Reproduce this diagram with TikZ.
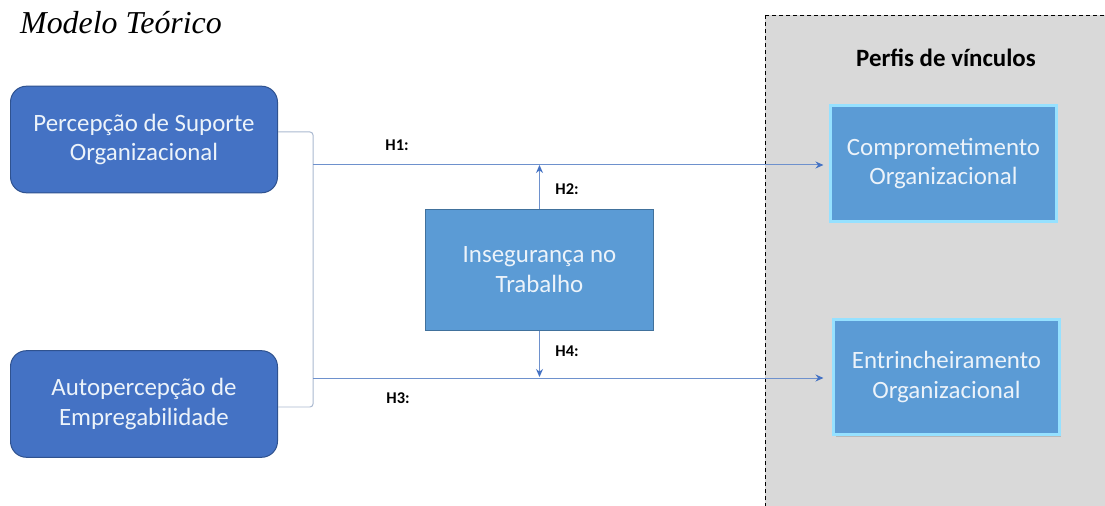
\documentclass[tikz,border=0pt]{standalone}
\usepackage{fontspec}
\setmainfont{Liberation Serif}
\setsansfont{Carlito}
\usetikzlibrary{arrows.meta,shadows}
\definecolor{darkblue}{RGB}{68,114,196}
\definecolor{darkedge}{RGB}{47,82,143}
\definecolor{midblue}{RGB}{91,155,213}
\definecolor{midedge}{RGB}{65,113,156}
\definecolor{glow}{RGB}{150,225,255}
\definecolor{panelgray}{RGB}{217,217,217}
\definecolor{boxtext}{RGB}{236,243,250}
\definecolor{bracketline}{RGB}{170,185,208}
\definecolor{arrowline}{RGB}{110,145,205}
\tikzset{
  boxfont/.style={font=\sffamily\fontsize{25}{30}\selectfont, text=boxtext, align=center},
  inputbox/.style={boxfont, draw=darkedge, line width=1pt, fill=darkblue, rounded corners=16,
                   minimum width=268, minimum height=107, inner sep=0pt},
  modbox/.style={boxfont, draw=midedge, line width=1pt, fill=midblue,
                 minimum width=229, minimum height=122, inner sep=0pt},
  outbox/.style={boxfont, draw=glow, line width=3pt, fill=midblue,
                 minimum width=226, minimum height=116, inner sep=0pt,
                 drop shadow={opacity=0.35, shadow xshift=2pt, shadow yshift=-2pt}},
  hlabel/.style={font=\sffamily\bfseries\fontsize{16.5}{18}\selectfont, text=black},
  bracket/.style={draw=bracketline, line width=1pt, rounded corners=3},
  flow/.style={draw=arrowline, line width=1pt,
               -{Stealth[length=8pt,width=7pt,color=darkblue]}},
}
\begin{document}
\begin{tikzpicture}[x=1bp, y=-1bp]
  \useasboundingbox (0,0) rectangle (1105,506);
  \clip (0,0) rectangle (1105,506);
  \fill[white] (0,0) rectangle (1105,506);

  % panel of outcome profiles
  \draw[fill=panelgray, draw=black, line width=0.9pt, dash pattern=on 4pt off 3pt]
    (765,15) rectangle (1120,520);
  \node[font=\sffamily\bfseries\fontsize{25}{29}\selectfont, text=black] (panel) at (946,58) {Perfis de vínculos};

  % title
  \node[font=\itshape\fontsize{32}{36}\selectfont, anchor=base west, inner sep=0pt] (title) at (20,34) {Modelo Teórico};

  % predictors
  \node[inputbox] (pos) at (144,139.5) {Percepção de Suporte\\Organizacional};
  \node[inputbox] (ae)  at (144,404)   {Autopercepção de\\Empregabilidade};

  % moderator
  \node[modbox] (ins) at (539.5,270) {Insegurança no\\Trabalho};

  % outcomes
  \node[outbox] (comp) at (943.5,163.5) {Comprometimento\\Organizacional};
  \node[outbox] (entr) at (946.5,377)   {Entrincheiramento\\Organizacional};

  % bracket joining both predictors
  \coordinate (btop) at (313,132);
  \coordinate (bbot) at (313,407);
  \coordinate (j1) at (313,165);
  \coordinate (j3) at (313,378);
  \draw[bracket] (pos.east |- btop) -- (btop) -- (bbot) -- (ae.east |- bbot);

  % hypotheses
  \draw[flow, shorten >=6pt] (j1) -- (j1 -| comp.west);
  \draw[flow, shorten >=9pt] (j3) -- (j3 -| entr.west);
  \draw[flow] (ins.north) -- (ins.north |- j1);
  \draw[flow, shorten >=1pt] (ins.south) -- (ins.south |- j3);

  \node[hlabel] (h1) at (397,145) {H1:};
  \node[hlabel] (h2) at (567,189) {H2:};
  \node[hlabel] (h4) at (567,351) {H4:};
  \node[hlabel] (h3) at (398,398) {H3:};
\end{tikzpicture}
\end{document}
